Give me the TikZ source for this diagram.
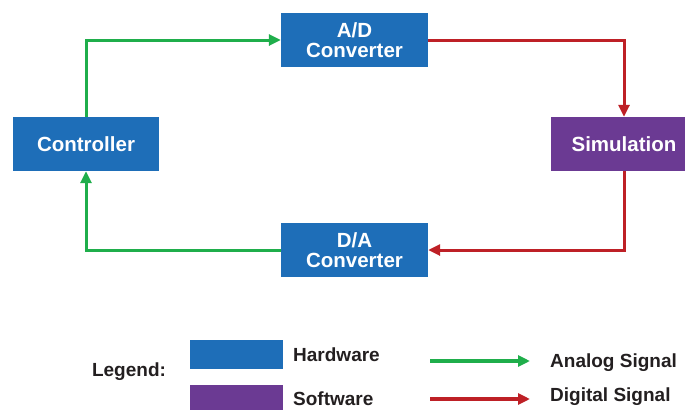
\documentclass[tikz,border=0pt]{standalone}
\usepackage{fontspec}
\setmainfont{Liberation Sans}
\usetikzlibrary{arrows.meta}
\definecolor{hwblue}{HTML}{1E6EB8}
\definecolor{swpurple}{HTML}{6B3A93}
\definecolor{anagreen}{HTML}{1FAE4B}
\definecolor{digred}{HTML}{BE2026}
\definecolor{legtext}{HTML}{231F20}
\tikzset{
  blk/.style={fill=hwblue, text=white, minimum width=147pt, minimum height=54pt,
    inner sep=0pt, align=center, font=\fontsize{20.5}{20}\selectfont\bfseries},
  swblk/.style={blk, fill=swpurple},
  ana/.style={draw=anagreen, line width=3pt, -{Triangle[length=12pt,width=11pt]}},
  dig/.style={draw=digred, line width=3pt, -{Triangle[length=12pt,width=11pt]}},
  legana/.style={draw=anagreen, line width=4pt, -{Triangle[length=12pt,width=11pt]}},
  legdig/.style={draw=digred, line width=4pt, -{Triangle[length=12pt,width=11pt]}},
  legtxt/.style={text=legtext, inner sep=0pt, font=\fontsize{19}{19}\selectfont\bfseries},
  legbox/.style={minimum width=93pt, inner sep=0pt}
}
\begin{document}
\begin{tikzpicture}[x=1pt,y=-1pt]
\useasboundingbox (0,0) rectangle (685,410);
\node[blk] (ad) at (354.5,40) {A/D\\Converter};
\node[blk, minimum width=146pt] (ctrl) at (86,144) {Controller};
\node[swblk, minimum width=134pt] (sim) at (618,144) {\hspace*{12pt}Simulation};
\node[blk] (da) at (354.5,250) {D/A\\Converter};

\draw[ana] (ctrl.north) |- (ad.west);
\draw[dig] (ad.east) -| ([xshift=6pt]sim.north);
\draw[dig] ([xshift=6pt]sim.south) |- (da.east);
\draw[ana] (da.west) -| (ctrl.south);

% legend
\node[legtxt] (leg) at (129,372) {Legend:};
\node[legbox, fill=hwblue, minimum height=29pt] (hw) at (236.5,354.5) {};
\node[legbox, fill=swpurple, minimum height=25pt] (sw) at (236.5,397.5) {};
\node[legtxt, anchor=west] (hwt) at (293,355) {Hardware};
\node[legtxt, anchor=west] (swt) at (293,399) {Software};
\coordinate (ga1) at (430,361);
\coordinate (ga2) at (530,361);
\coordinate (ra1) at (430,399);
\coordinate (ra2) at (530,399);
\draw[legana] (ga1) -- (ga2);
\draw[legdig] (ra1) -- (ra2);
\node[legtxt, anchor=west] (ant) at (550,363) {Analog Signal};
\node[legtxt, anchor=west] (dit) at (550,397) {Digital Signal};
\end{tikzpicture}
\end{document}
